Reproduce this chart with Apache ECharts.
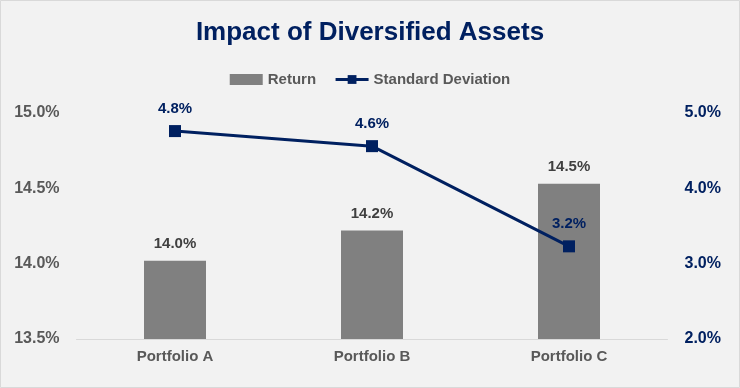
<!DOCTYPE html>
<html><head><meta charset="utf-8">
<script src="https://cdn.jsdelivr.net/npm/echarts@6/dist/echarts.min.js"></script>
<style>html,body{margin:0;padding:0;background:#f2f2f2}#c{width:740px;height:388px}</style>
</head><body><div id="c"></div>
<script>
var categories = ['Portfolio A', 'Portfolio B', 'Portfolio C'];
var returnValues = [14.02, 14.22, 14.53];
var stdDevValues = [4.76, 4.56, 3.23];
var leftTicks = [13.5, 14.0, 14.5, 15.0];
var rightTicks = [2.0, 3.0, 4.0, 5.0];

var FONT = "'Liberation Sans', Arial, sans-serif";
var GRAY = '#595959', NAVY = '#002060';
var chart = echarts.init(document.getElementById('c'), null, {renderer: 'canvas'});
chart.setOption({
  backgroundColor: '#f2f2f2',
  animation: false,
  textStyle: {fontFamily: FONT},
  graphic: [{type: 'rect', shape: {x: 0.5, y: 0.5, width: 739, height: 387}, style: {fill: 'none', stroke: '#d9d9d9', lineWidth: 1}, silent: true}],
  title: {text: 'Impact of Diversified Assets', left: 'center', top: 15,
    textStyle: {fontFamily: FONT, fontSize: 26, fontWeight: 'bold', color: NAVY}},
  legend: {top: 67, left: 'center', itemGap: 18, itemWidth: 33, itemHeight: 11,
    lineStyle: {width: 3},
    textStyle: {fontFamily: FONT, fontSize: 15, fontWeight: 'bold', color: GRAY},
    data: [{name: 'Return', icon: 'rect'}, {name: 'Standard Deviation'}]},
  grid: {left: 76.5, right: 72.5, top: 113, bottom: 49, containLabel: false},
  xAxis: {type: 'category', data: categories,
    axisLine: {lineStyle: {color: '#d9d9d9'}}, axisTick: {show: false},
    axisLabel: {margin: 10, fontFamily: FONT, fontSize: 15, fontWeight: 'bold', color: GRAY}},
  yAxis: [
    {type: 'value', min: leftTicks[0], max: leftTicks[leftTicks.length - 1], interval: 0.5,
      splitLine: {show: false}, axisLine: {show: false}, axisTick: {show: false},
      axisLabel: {margin: 17, fontFamily: FONT, fontSize: 16, fontWeight: 'bold', color: GRAY,
        formatter: function (v) { return v.toFixed(1) + '%'; }}},
    {type: 'value', min: rightTicks[0], max: rightTicks[rightTicks.length - 1], interval: 1,
      splitLine: {show: false}, axisLine: {show: false}, axisTick: {show: false},
      axisLabel: {margin: 17, fontFamily: FONT, fontSize: 16, fontWeight: 'bold', color: NAVY,
        formatter: function (v) { return v.toFixed(1) + '%'; }}}
  ],
  series: [
    {name: 'Return', type: 'bar', data: returnValues, barWidth: 62, yAxisIndex: 0,
      itemStyle: {color: '#808080'},
      label: {show: true, position: 'top', distance: 9, fontFamily: FONT, fontSize: 15, fontWeight: 'bold', color: '#404040',
        formatter: function (p) { return p.value.toFixed(1) + '%'; }}},
    {name: 'Standard Deviation', type: 'line', data: stdDevValues, yAxisIndex: 1,
      symbol: 'rect', symbolSize: 12, lineStyle: {color: NAVY, width: 3}, itemStyle: {color: NAVY},
      label: {show: true, position: 'top', distance: 9, fontFamily: FONT, fontSize: 15, fontWeight: 'bold', color: NAVY,
        formatter: function (p) { return p.value.toFixed(1) + '%'; }}}
  ]
});
</script></body></html>
